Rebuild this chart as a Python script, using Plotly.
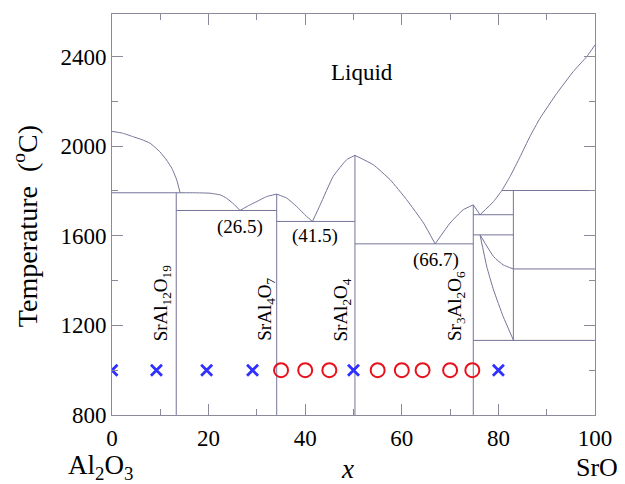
import plotly.graph_objects as go

# ---------------- data (x = mol% SrO, T in deg C) ----------------
# liquidus branches
liq_x_1 = [0, 2.2, 4.4, 6.2, 7.9, 9.9, 11.3, 12.4, 13.4, 14.1]
liq_T_1 = [2066, 2058, 2042, 2029, 2013, 1975, 1938, 1901, 1849, 1792]
liq_x_2 = [14.1, 17, 20.3, 22.5, 23.7, 25.2, 26.5]
liq_T_2 = [1792, 1792, 1790, 1782, 1768, 1742, 1713]
liq_x_3 = [26.5, 28.3, 30, 32, 34.1]
liq_T_3 = [1713, 1735, 1753, 1775, 1786]
liq_x_4 = [34.1, 36.2, 38.2, 40.3, 41.5]
liq_T_4 = [1786, 1768, 1731, 1686, 1664]
liq_x_5 = [41.5, 43.1, 45.8, 48.6, 50.3]
liq_T_5 = [1664, 1738, 1865, 1940, 1959]
liq_x_6 = [50.3, 54.1, 57.6, 61, 64.5, 66.9]
liq_T_6 = [1959, 1917, 1850, 1761, 1657, 1564]
liq_x_7 = [66.9, 70, 72.7, 74.8]
liq_T_7 = [1564, 1657, 1716, 1738]
liq_x_8 = [74.8, 76.2]
liq_T_8 = [1738, 1694]
liq_x_9 = [76.2, 79, 80.7, 82.4, 84.5, 86.5, 88.6, 92.1, 95.5, 98.3, 100]
liq_T_9 = [1694, 1753, 1802, 1864, 1953, 2042, 2124, 2236, 2333, 2400, 2452]

# solid-solution curves in the SrO-rich region
ss_x_1 = [76.2, 79, 81, 83.1]
ss_T_1 = [1604, 1507, 1470, 1452]
ss_x_2 = [76.2, 77.6, 79, 81, 83.1]
ss_T_2 = [1604, 1462, 1358, 1239, 1135]

# horizontal (invariant) lines: start x, end x, temperature
hline_x0 = [0, 13.3, 34.1, 50.3, 74.8, 74.8, 80.7, 83.1, 74.8]
hline_x1 = [14.1, 34.1, 50.3, 74.8, 83.1, 83.1, 100, 100, 100]
hline_T = [1792, 1713, 1664, 1564, 1694, 1604, 1802, 1452, 1133]

# vertical (compound) lines: x, bottom T, top T
vline_x = [13.3, 34.1, 50.3, 74.8, 83.1]
vline_T0 = [800, 800, 800, 800, 1133]
vline_T1 = [1792, 1786, 1959, 1738, 1802]

# sample points at 1000 C
blue_x = [0, 9.2, 19.6, 29.1, 50, 80]
blue_T = [1000, 1000, 1000, 1000, 1000, 1000]
red_x = [35, 40, 45, 55, 60, 64.3, 70, 74.6]
red_T = [1000, 1000, 1000, 1000, 1000, 1000, 1000, 1000]

# labels
eut_labels = ["(26.5)", "(41.5)", "(66.7)"]
eut_label_x = [26.6, 42.1, 67.1]
eut_label_T = [1641, 1597, 1490]
cmp_labels = ["SrAl<sub>12</sub>O<sub>19</sub>", "SrAl<sub>4</sub>O<sub>7</sub>",
              "SrAl<sub>2</sub>O<sub>4</sub>", "Sr<sub>3</sub>Al<sub>2</sub>O<sub>6</sub>"]
cmp_label_x = [10.3, 31.7, 47.6, 71.2]
cmp_label_T = 1121

x_ticks = [0, 20, 40, 60, 80, 100]
y_ticks = [800, 1200, 1600, 2000, 2400]

# ---------------- figure ----------------
LINE = "#74749a"
AXC = "#8a8a9a"
FONT = "Liberation Serif"
fig = go.Figure()

liq = [(liq_x_1, liq_T_1), (liq_x_2, liq_T_2), (liq_x_3, liq_T_3), (liq_x_4, liq_T_4),
       (liq_x_5, liq_T_5), (liq_x_6, liq_T_6), (liq_x_7, liq_T_7), (liq_x_8, liq_T_8),
       (liq_x_9, liq_T_9), (ss_x_1, ss_T_1), (ss_x_2, ss_T_2)]
for xs, ts in liq:
    fig.add_trace(go.Scatter(x=xs, y=ts, mode="lines",
                             line=dict(color=LINE, width=1, shape="spline", smoothing=0.4),
                             hoverinfo="skip", showlegend=False))

hx, hy = [], []
for a, b, t in zip(hline_x0, hline_x1, hline_T):
    hx += [a, b, None]
    hy += [t, t, None]
for x, t0, t1 in zip(vline_x, vline_T0, vline_T1):
    hx += [x, x, None]
    hy += [t0, t1, None]
fig.add_trace(go.Scatter(x=hx, y=hy, mode="lines", line=dict(color=LINE, width=1),
                         hoverinfo="skip", showlegend=False))

fig.add_trace(go.Scatter(x=blue_x, y=blue_T, mode="markers",
                         marker=dict(symbol="x-thin", size=11, line=dict(color="#2f2fff", width=2.8)),
                         showlegend=False))
fig.add_trace(go.Scatter(x=red_x, y=red_T, mode="markers",
                         marker=dict(symbol="circle-open", size=14, color="#e8101a",
                                     line=dict(color="#e8101a", width=2)),
                         showlegend=False))

fig.add_annotation(x=51.7, y=2328, text="Liquid", showarrow=False,
                   font=dict(family=FONT, size=23, color="black"))
for t, x, y in zip(eut_labels, eut_label_x, eut_label_T):
    fig.add_annotation(x=x, y=y, text=t, showarrow=False, font=dict(family=FONT, size=19, color="black"))
for t, x in zip(cmp_labels, cmp_label_x):
    fig.add_annotation(x=x, y=cmp_label_T, text=t, showarrow=False, textangle=-90,
                       xanchor="center", yanchor="bottom", font=dict(family=FONT, size=19, color="black"))

fig.add_annotation(xref="paper", yref="paper", x=-0.18, y=0.471, text="Temperature  (<sup>o</sup>C)",
                   textangle=-90, showarrow=False, xanchor="center", yanchor="middle",
                   font=dict(family=FONT, size=28, color="black"))
fig.add_annotation(xref="paper", yref="paper", x=-0.023, y=-0.13, text="Al<sub>2</sub>O<sub>3</sub>",
                   showarrow=False, xanchor="center", yanchor="middle",
                   font=dict(family=FONT, size=27, color="black"))
fig.add_annotation(xref="paper", yref="paper", x=0.4876, y=-0.135, text="<i>x</i>",
                   showarrow=False, xanchor="center", yanchor="middle",
                   font=dict(family=FONT, size=27, color="black"))
fig.add_annotation(xref="paper", yref="paper", x=1.005, y=-0.13, text="SrO",
                   showarrow=False, xanchor="center", yanchor="middle",
                   font=dict(family=FONT, size=26, color="black"))

axis_common = dict(showgrid=False, zeroline=False, showline=True, linecolor=AXC, linewidth=1,
                   mirror="ticks", ticks="inside", ticklen=11, tickcolor=AXC,
                   tickfont=dict(family=FONT, size=23, color="black"))
fig.update_xaxes(range=[0, 100], tickvals=x_ticks, ticklabelstandoff=2,
                 minor=dict(ticks="inside", ticklen=6, dtick=10, tickcolor=AXC), **axis_common)
fig.update_yaxes(range=[800, 2590], tickvals=y_ticks, ticklabelstandoff=0,
                 minor=dict(ticks="inside", ticklen=6, dtick=200, tickcolor=AXC), **axis_common)

# page body has an 8 px margin, so the figure origin is shifted and margins compensated
fig.update_layout(width=609, height=476, margin=dict(l=104, r=22, t=6, b=69),
                  paper_bgcolor="white", plot_bgcolor="white", showlegend=False)
fig.write_html("out.html")
